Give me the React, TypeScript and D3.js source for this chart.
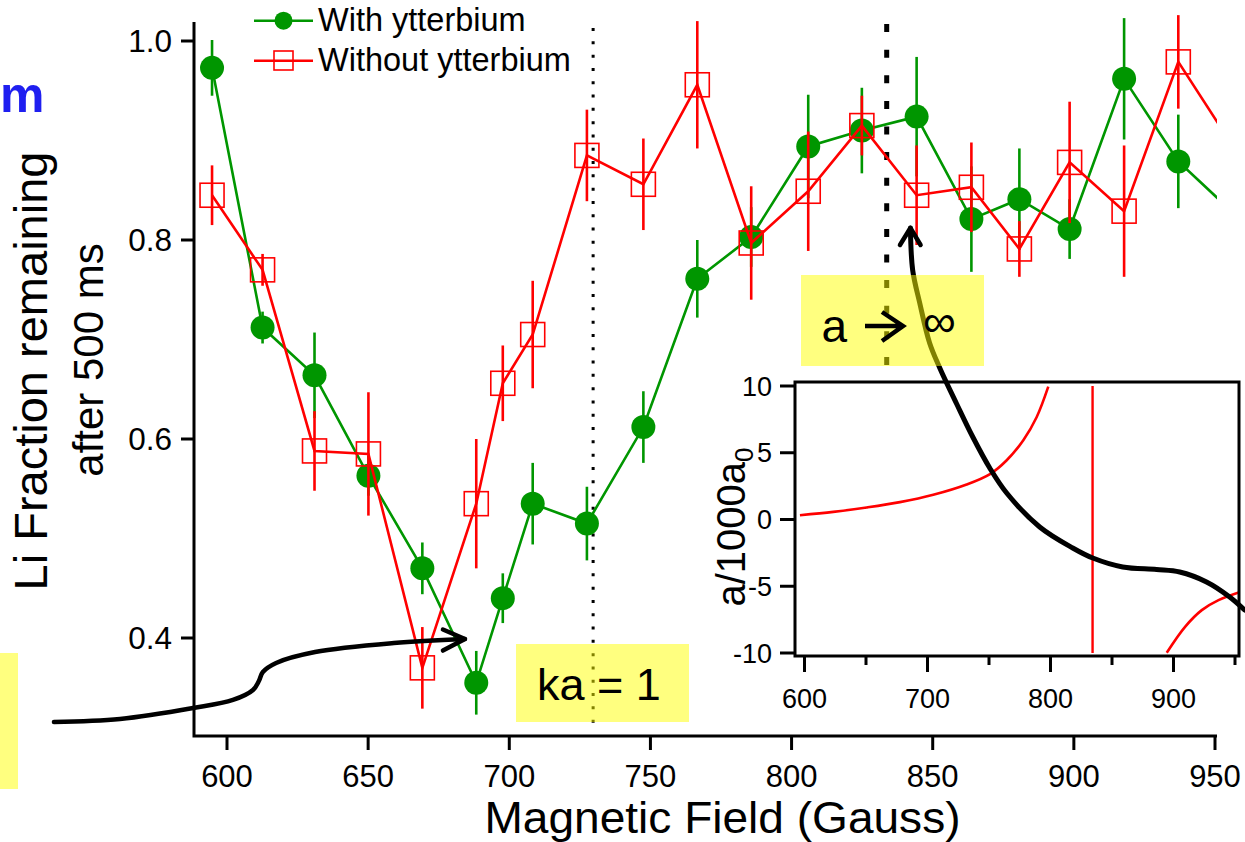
import React from 'react';
import * as d3 from 'd3';

// ---------- Data ----------
const fieldGauss = [594.7, 612.6, 631.0, 650.1, 669.2, 688.3, 697.7, 708.3, 727.5, 747.5, 766.6, 785.7, 805.9, 824.9, 844.3, 863.7, 880.7, 898.5, 917.8, 937.0, 956.2];
const withYb = [0.973, 0.712, 0.664, 0.563, 0.470, 0.355, 0.440, 0.535, 0.515, 0.612, 0.761, 0.803, 0.894, 0.910, 0.924, 0.821, 0.841, 0.811, 0.962, 0.879, 0.828];
const withYbErr = [0.028, 0.016, 0.043, 0.020, 0.026, 0.032, 0.025, 0.041, 0.037, 0.036, 0.039, 0.030, 0.052, 0.043, 0.060, 0.053, 0.051, 0.030, 0.061, 0.047, 0.05];
const withoutYb = [0.845, 0.770, 0.588, 0.585, 0.370, 0.535, 0.656, 0.705, 0.885, 0.856, 0.956, 0.797, 0.849, 0.915, 0.845, 0.853, 0.791, 0.878, 0.829, 0.979, 0.895];
const withoutYbErr = [0.030, 0.016, 0.040, 0.062, 0.041, 0.065, 0.038, 0.054, 0.046, 0.046, 0.064, 0.057, 0.060, 0.030, 0.050, 0.045, 0.028, 0.061, 0.066, 0.047, 0.05];

const xTicks = [600, 650, 700, 750, 800, 850, 900, 950];
const yTicks = [0.4, 0.6, 0.8, 1.0];
const seriesNames = ['With ytterbium', 'Without ytterbium'];

// inset: scattering length a/1000a0 vs field
const insetBranchLowField = [596.3, 623.4, 650.5, 677.6, 704.7, 731.8, 750.8, 764.4, 777.9, 788.8, 798.2];
const insetBranchLowValue = [0.32, 0.57, 0.9, 1.3, 1.85, 2.62, 3.4, 4.44, 5.94, 7.68, 9.95];
const insetBranchHighField = [894.5, 909.4, 923.0, 936.6, 958.7];
const insetBranchHighValue = [-9.98, -8.04, -6.79, -6.04, -5.29];
const insetResonance = 834.2;
const insetXTicks = [600, 650, 700, 750, 800, 850, 900, 950];
const insetXLabels = [600, 700, 800, 900];
const insetYTicks = [10, 5, 0, -5, -10];

// annotation arrows (in main-chart data units: gauss, fraction)
const arrowKaPath: [number, number][] = [
  [538.7, 0.3156], [562.1, 0.3186], [588.0, 0.3296], [602.1, 0.3377], [609.2, 0.3477],
  [611.3, 0.3568], [612.7, 0.3658], [617.4, 0.3749], [631.2, 0.3859], [659.1, 0.3950], [684.3, 0.3990],
];
const arrowKaHead: [number, number][] = [[676.5, 0.4085], [684.3, 0.3990], [676.5, 0.3874]];
const arrowInfPath: [number, number][] = [
  [960.5, 0.4281], [955.2, 0.4412], [947.0, 0.4563], [937.5, 0.4663], [929.3, 0.4688], [917.3, 0.4714],
  [906.7, 0.4804], [899.6, 0.4905], [887.9, 0.5116], [876.2, 0.5457], [870.2, 0.5709], [864.2, 0.6020],
  [858.5, 0.6352], [852.5, 0.6714], [848.9, 0.6965], [845.4, 0.7367], [842.9, 0.7698], [842.1, 0.8121],
];
const arrowInfHead: [number, number][] = [[838.4, 0.7950], [842.1, 0.8121], [845.7, 0.7950]];
const kaLine = { field: 729.7, from: 1.013, to: 0.3085 };
const resLine = { field: 833.7, from: 1.017, to: 0.671 };

const GREEN = '#009600';
const RED = '#ff0000';
const FONT = '"Liberation Sans", Arial, Helvetica, sans-serif';

export default function App() {
  const x = d3.scaleLinear().domain([600, 950]).range([227, 1215]);
  const y = d3.scaleLinear().domain([0.4, 1.0]).range([638, 41]);
  const axLeft = 194, axBottom = 736, axRight = 1217, axTop = 22;

  const line = d3.line<[number, number]>().x(d => x(d[0])).y(d => y(d[1]));
  const greenPts: [number, number][] = fieldGauss.map((f, i) => [f, withYb[i]]);
  const redPts: [number, number][] = fieldGauss.map((f, i) => [f, withoutYb[i]]);
  const curve = d3.line<[number, number]>().x(d => x(d[0])).y(d => y(d[1])).curve(d3.curveCatmullRom.alpha(0.5));

  // inset scales
  const xi = d3.scaleLinear().domain([600, 950]).range([804.5, 1235]);
  const yi = d3.scaleLinear().domain([-10, 10]).range([653, 386]);
  const iL = 795, iR = 1239, iT = 382, iB = 656;
  const iline = d3.line<[number, number]>().x(d => xi(d[0])).y(d => yi(d[1])).curve(d3.curveCatmullRom.alpha(0.5));
  const branchLow: [number, number][] = insetBranchLowField.map((f, i) => [f, insetBranchLowValue[i]]);
  const branchHigh: [number, number][] = insetBranchHighField.map((f, i) => [f, insetBranchHighValue[i]]);

  const yellow = 'rgba(255,255,0,0.5)';

  return (
    <svg width={1245} height={842} style={{ position: 'absolute', left: 0, top: 0, background: '#fff' }} fontFamily={FONT}>
      <defs>
        <clipPath id="plotClip"><rect x={axLeft} y={0} width={axRight - axLeft} height={axBottom} /></clipPath>
        <clipPath id="insetClip"><rect x={iL} y={iT} width={iR - iL} height={iB - iT} /></clipPath>
      </defs>

      {/* blue text fragment at top-left */}
      <text x={0} y={112} fontSize={50} fontWeight="bold" fill="#1f1ff0">m</text>

      {/* y axis title */}
      <text transform="translate(47,371) rotate(-90)" textAnchor="middle" fontSize={47} fill="#000">Li Fraction remaining</text>
      <text transform="translate(103,360) rotate(-90)" textAnchor="middle" fontSize={42} fill="#000">after 500 ms</text>

      {/* x axis title */}
      <text x={722.5} y={832.5} textAnchor="middle" fontSize={43.5} textLength={476} lengthAdjust="spacingAndGlyphs" fill="#000">Magnetic Field (Gauss)</text>

      {/* axes */}
      <path d={`M${axLeft},${axTop}V${axBottom}H${axRight}`} fill="none" stroke="#000" strokeWidth={3} />
      {xTicks.map(t => (
        <g key={'xt' + t}>
          <line x1={x(t)} x2={x(t)} y1={axBottom} y2={axBottom + 14} stroke="#000" strokeWidth={3} />
          <text x={x(t)} y={786.5} textAnchor="middle" fontSize={31}>{t}</text>
        </g>
      ))}
      {yTicks.map(t => (
        <g key={'yt' + t}>
          <line x1={axLeft - 13} x2={axLeft} y1={y(t)} y2={y(t)} stroke="#000" strokeWidth={3} />
          <text x={172} y={y(t) + 11} textAnchor="end" fontSize={31.5}>{t.toFixed(1)}</text>
        </g>
      ))}

      {/* reference lines */}
      <line x1={x(kaLine.field)} x2={x(kaLine.field)} y1={y(kaLine.from)} y2={y(kaLine.to)} stroke="#000" strokeWidth={3} strokeDasharray="3,10.3" />
      <line x1={x(resLine.field)} x2={x(resLine.field)} y1={y(resLine.from)} y2={y(resLine.to)} stroke="#000" strokeWidth={5} strokeDasharray="8,17.6" />

      {/* data */}
      <g clipPath="url(#plotClip)">
        <path d={line(greenPts) || ''} fill="none" stroke={GREEN} strokeWidth={2.6} />
        {greenPts.map((p, i) => (
          <line key={'ge' + i} x1={x(p[0])} x2={x(p[0])} y1={y(p[1] - withYbErr[i])} y2={y(p[1] + withYbErr[i])} stroke={GREEN} strokeWidth={2.6} />
        ))}
        {greenPts.map((p, i) => (
          <circle key={'gc' + i} cx={x(p[0])} cy={y(p[1])} r={12} fill={GREEN} />
        ))}
        <path d={line(redPts) || ''} fill="none" stroke={RED} strokeWidth={2.6} />
        {redPts.map((p, i) => (
          <line key={'re' + i} x1={x(p[0])} x2={x(p[0])} y1={y(p[1] - withoutYbErr[i])} y2={y(p[1] + withoutYbErr[i])} stroke={RED} strokeWidth={2.6} />
        ))}
        {redPts.map((p, i) => (
          <rect key={'rs' + i} x={x(p[0]) - 12} y={y(p[1]) - 12} width={24} height={24} fill="none" stroke={RED} strokeWidth={1.6} />
        ))}
      </g>

      {/* legend */}
      <line x1={254} x2={313} y1={20.7} y2={20.7} stroke={GREEN} strokeWidth={2.6} />
      <circle cx={283.5} cy={20.7} r={9} fill={GREEN} />
      <text x={318} y={31} fontSize={32.5}>{seriesNames[0]}</text>
      <line x1={254} x2={313} y1={60.7} y2={60.7} stroke={RED} strokeWidth={2.6} />
      <rect x={274} y={51} width={19} height={19} fill="none" stroke={RED} strokeWidth={1.6} />
      <text x={318} y={71} fontSize={32.5}>{seriesNames[1]}</text>

      {/* inset */}
      <rect x={iL} y={iT} width={iR - iL} height={iB - iT} fill="#fff" stroke="none" />
      <g clipPath="url(#insetClip)">
        <path d={iline(branchLow) || ''} fill="none" stroke={RED} strokeWidth={2.6} />
        <path d={iline(branchHigh) || ''} fill="none" stroke={RED} strokeWidth={2.6} />
        <line x1={xi(insetResonance)} x2={xi(insetResonance)} y1={yi(-10)} y2={yi(10)} stroke={RED} strokeWidth={2.4} />
      </g>
      <rect x={iL} y={iT} width={iR - iL} height={iB - iT} fill="none" stroke="#000" strokeWidth={3} />
      {insetXTicks.map(t => {
        const major = insetXLabels.includes(t);
        return <line key={'ixt' + t} x1={xi(t)} x2={xi(t)} y1={iB} y2={iB + (major ? 16 : 9)} stroke="#000" strokeWidth={3} />;
      })}
      {insetXLabels.map(t => (
        <text key={'ixl' + t} x={xi(t)} y={708} textAnchor="middle" fontSize={27}>{t}</text>
      ))}
      {insetYTicks.map(t => (
        <g key={'iyt' + t}>
          <line x1={iL - 15} x2={iL} y1={yi(t)} y2={yi(t)} stroke="#000" strokeWidth={3} />
          <text x={772} y={yi(t) + 9.5} textAnchor="end" fontSize={27}>{t}</text>
        </g>
      ))}
      <text transform="translate(745,527) rotate(-90)" textAnchor="middle" fontSize={40}>
        a/1000a<tspan fontSize={26} dy={8}>0</tspan>
      </text>

      {/* annotation arrows */}
      <path d={curve(arrowKaPath) || ''} fill="none" stroke="#000" strokeWidth={4.5} strokeLinecap="round" />
      <path d={line(arrowKaHead) || ''} fill="none" stroke="#000" strokeWidth={4.5} strokeLinecap="round" strokeLinejoin="round" />
      <path d={curve(arrowInfPath) || ''} fill="none" stroke="#000" strokeWidth={5} strokeLinecap="round" />
      <path d={line(arrowInfHead) || ''} fill="none" stroke="#000" strokeWidth={4.5} strokeLinecap="round" strokeLinejoin="round" />

      {/* yellow labels */}
      <rect x={0} y={653} width={18} height={136} fill={yellow} />
      <rect x={516} y={644} width={173} height={78} fill={yellow} />
      <text x={537} y={700} fontSize={45}>ka = 1</text>
      <rect x={801} y={275} width={183} height={91} fill={yellow} />
      <text x={821.5} y={341.7} fontSize={46}>a</text>
      <path d="M865,326H902M882,312L903,326L882,341" fill="none" stroke="#000" strokeWidth={4.5} strokeLinejoin="miter" />
      <text x={923} y={337} fontSize={46}>∞</text>
    </svg>
  );
}
